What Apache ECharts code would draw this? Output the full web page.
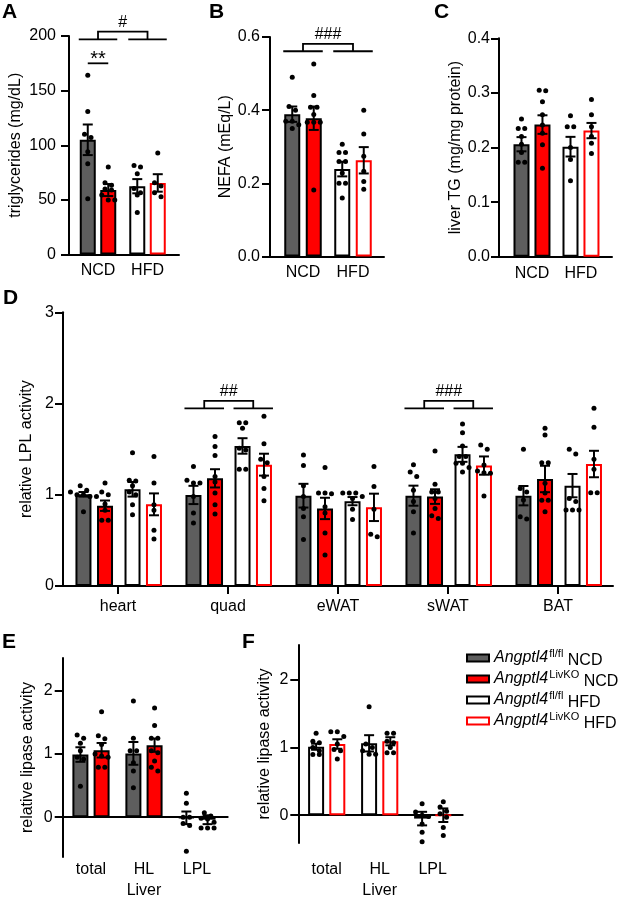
<!DOCTYPE html>
<html>
<head>
<meta charset="utf-8">
<script src="https://cdn.jsdelivr.net/npm/echarts@6/dist/echarts.min.js"></script>
<style>
html, body { margin: 0; padding: 0; background: #fff; }
#main { width: 625px; height: 901px; }
</style>
</head>
<body>
<div id="main"></div>
<script>
// groups, in the order of the legend
var groupNames = ['fl/fl NCD', 'LivKO NCD', 'fl/fl HFD', 'LivKO HFD'];
var dietCats = ['NCD', 'HFD'];
var tissueCats = ['heart', 'quad', 'eWAT', 'sWAT', 'BAT'];
var liverCats = ['total', 'HL\nLiver', 'LPL'];

// A - plasma triglycerides (mg/dL), one entry per group
var tgMean = [105, 59, 62.5, 65.5];
var tgSem = [14, 5.5, 6.5, 8];
var tgDots = [
    [164, 131, 110, 107, 94, 83, 51],
    [80, 65.6, 63.5, 60, 59, 54.5, 50, 50],
    [80, 81.5, 74, 60.5, 56.5, 54.5, 38.5],
    [93, 65.6, 62.6, 56.5, 52.8]
];

// B - NEFA (mEq/L)
var nefaMean = [0.389, 0.378, 0.239, 0.263];
var nefaSem = [0.021, 0.032, 0.02, 0.036];
var nefaDots = [
    [0.49, 0.41, 0.40, 0.37, 0.37, 0.36, 0.35],
    [0.526, 0.44, 0.408, 0.408, 0.388, 0.367, 0.367, 0.367, 0.182],
    [0.307, 0.284, 0.284, 0.26, 0.26, 0.228, 0.2, 0.2, 0.16],
    [0.40, 0.335, 0.274, 0.233, 0.205, 0.184]
];

// C - liver TG (mg/mg protein)
var liverTgMean = [0.206, 0.242, 0.2015, 0.231];
var liverTgSem = [0.013, 0.017, 0.018, 0.014];
var liverTgDots = [
    [0.252, 0.235, 0.235, 0.22, 0.206, 0.191, 0.173, 0.173],
    [0.304, 0.305, 0.284, 0.26, 0.241, 0.226, 0.205, 0.162],
    [0.258, 0.238, 0.238, 0.2, 0.178, 0.139],
    [0.288, 0.26, 0.238, 0.22, 0.208, 0.189]
];

// D - relative LPL activity, [tissue][group]
var lplMean = [
    [1.005, 0.88, 1.06, 0.895],
    [0.998, 1.18, 1.535, 1.33],
    [0.99, 0.85, 0.93, 0.862],
    [0.99, 0.98, 1.443, 1.32],
    [0.99, 1.173, 1.1, 1.337]
];
var lplSem = [
    [0.025, 0.057, 0.08, 0.12],
    [0.1, 0.1, 0.085, 0.12],
    [0.13, 0.117, 0.045, 0.15],
    [0.11, 0.08, 0.082, 0.1],
    [0.106, 0.145, 0.128, 0.145]
];
var lplDots = [
    [[1.10, 1.05, 1.03, 1.0, 1.0, 0.98, 0.98, 0.815], [1.13, 1.03, 1.0, 0.9, 0.83, 0.72, 0.72],
     [1.46, 1.16, 1.15, 1.1, 1.03, 1.0, 0.89, 0.78], [1.42, 1.13, 0.89, 0.83, 0.61, 0.515]],
    [[1.31, 1.16, 1.13, 1.13, 0.98, 0.8, 0.69], [1.64, 1.53, 1.43, 1.2, 1.14, 1.02, 0.89, 0.79],
     [1.79, 1.79, 1.73, 1.51, 1.49, 1.28, 1.28], [1.86, 1.56, 1.39, 1.35, 1.2, 1.07, 0.935]],
    [[1.436, 1.32, 1.1, 0.98, 0.85, 0.76, 0.51], [1.3, 1.02, 1.02, 1.01, 0.87, 0.8, 0.58, 0.34],
     [1.02, 1.02, 1.02, 0.98, 0.96, 0.84, 0.73], [1.31, 1.09, 0.84, 0.54, 0.566]],
    [[1.33, 1.25, 1.2, 1.05, 0.925, 0.815, 0.58], [1.48, 1.115, 1.03, 1.03, 0.96, 0.85, 0.77, 0.74],
     [1.776, 1.68, 1.535, 1.42, 1.42, 1.345, 1.345, 1.3, 1.25], [1.546, 1.5, 1.326, 1.26, 1.24, 1.235, 0.987]],
    [[1.498, 1.07, 1.03, 0.943, 0.76, 0.734], [1.73, 1.655, 1.35, 1.35, 1.125, 1.02, 0.94, 0.94, 0.815],
     [1.5, 1.447, 0.96, 0.925, 0.833, 0.833, 0.833], [1.948, 1.739, 1.389, 1.279, 1.023, 1.023]]
];

// E - liver lipase activity, NCD groups, [category][group]
var ncdLipMean = [[0.992, 1.06], [1.01, 1.14], [-0.01, -0.04]];
var ncdLipSem = [[0.115, 0.115], [0.18, 0.105], [0.1, 0.07]];
var ncdLipDots = [
    [[1.30, 1.25, 1.17, 1.05, 0.95, 0.92, 0.49], [1.67, 1.29, 1.24, 1.15, 1.0, 0.97, 0.95, 0.79, 0.79]],
    [[1.84, 1.25, 1.05, 1.05, 0.86, 0.73, 0.465], [1.73, 1.45, 1.25, 1.25, 1.05, 1.02, 0.89, 0.79, 0.73]],
    [[0.38, 0.22, 0.0, 0.0, -0.1, -0.13, -0.54], [0.07, 0.02, -0.015, -0.03, -0.08, -0.17, -0.17, -0.17]]
];

// F - liver lipase activity, HFD groups
var hfdLipMean = [[1.01, 1.05], [1.06, 1.09], [-0.05, 0.0]];
var hfdLipSem = [[0.045, 0.07], [0.12, 0.06], [0.1, 0.1]];
var hfdLipDots = [
    [[1.21, 1.09, 1.07, 1.0, 0.95, 0.895, 0.895], [1.23, 1.23, 1.16, 1.05, 0.97, 0.95, 0.83]],
    [[1.6, 1.05, 1.0, 0.95, 0.9, 0.9], [1.21, 1.21, 1.09, 1.07, 1.0, 0.92, 0.92]],
    [[0.167, 0.048, 0.0, -0.02, -0.13, -0.25, -0.39], [0.2, 0.12, 0.06, 0.02, -0.03, -0.18, -0.3]]
];

// significance marks (y in data units)
var tgBrackets = [
    {pair: [0, 1], y: 175, text: '**'},
    {left: [0, 1], right: [2, 3], y: 197, top: 204, text: '#'}
];
var nefaBrackets = [
    {left: [0, 1], right: [2, 3], y: 0.561, top: 0.581, text: '###'}
];
var lplBrackets = [
    {left: [4, 5], right: [6, 7], y: 1.948, top: 2.03, text: '##'},
    {left: [12, 13], right: [14, 15], y: 1.948, top: 2.03, text: '###'}
];

var FONT = '"Liberation Sans", Arial, sans-serif';
var groupStyles = [
    {color: '#5e5e5e', borderColor: '#000'},
    {color: '#ff0000', borderColor: '#000'},
    {color: '#ffffff', borderColor: '#000'},
    {color: '#ffffff', borderColor: '#ff0000'}
];
var BAR_W = 16, HALF = 9, CAP = 5, DOT_R = 2.5, STEP = 6.5, MIN_D = 5;

// bar slots: x position on the panel's value axis
function buildDiet(mean, sem, dots, off) {
    return mean.map(function (m, g) {
        return {x: Math.floor(g / 2) + (g % 2 ? off : -off), g: g, mean: m, sem: sem[g], dots: dots[g]};
    });
}
function buildCats(mean, sem, dots, offs, gIdx) {
    var out = [];
    mean.forEach(function (row, c) {
        row.forEach(function (m, k) {
            out.push({x: c + offs[k], g: gIdx[k], mean: m, sem: sem[c][k], dots: dots[c][k]});
        });
    });
    return out;
}

var fmt1 = function (v) { return v.toFixed(1); };

var panels = [
    {letter: 'A', lx: 2, ly: 2, left: 69, top: 36, width: 110, height: 218.5,
     xMin: -0.586, xMax: 1.636, yMin: 0, yMax: 200, yStep: 50, yMargin: 13,
     cats: dietCats, catTicks: false, labelMargin: 6,
     yName: 'triglycerides (mg/dL)', nameGap: 45,
     slots: buildDiet(tgMean, tgSem, tgDots, 0.207), brackets: tgBrackets},
    {letter: 'B', lx: 209, ly: 2, left: 270, top: 37, width: 114, height: 219.5,
     xMin: -0.66, xMax: 1.62, yMin: 0, yMax: 0.6, yStep: 0.2, yFmt: fmt1, yMargin: 10,
     cats: dietCats, catTicks: false, labelMargin: 6,
     yName: 'NEFA (mEq/L)', nameGap: 35,
     slots: buildDiet(nefaMean, nefaSem, nefaDots, 0.215), brackets: nefaBrackets},
    {letter: 'C', lx: 434, ly: 2, left: 499, top: 38.3, width: 113, height: 218.4,
     xMin: -0.673, xMax: 1.633, yMin: 0, yMax: 0.4, yStep: 0.1, yFmt: fmt1, yMargin: 9,
     cats: dietCats, catTicks: false, labelMargin: 6,
     yName: 'liver TG (mg/mg protein)', nameGap: 35,
     slots: buildDiet(liverTgMean, liverTgSem, liverTgDots, 0.214), brackets: []},
    {letter: 'D', lx: 3, ly: 288, left: 63, top: 312.3, width: 550, height: 273.7,
     xMin: -0.5, xMax: 4.5, yMin: 0, yMax: 3, yStep: 1, yMargin: 9,
     cats: tissueCats, catTicks: true, labelMargin: 10,
     yName: 'relative LPL activity', nameGap: 26,
     slots: buildCats(lplMean, lplSem, lplDots, [-0.314, -0.118, 0.132, 0.327], [0, 1, 2, 3]),
     brackets: lplBrackets},
    {letter: 'E', lx: 2, ly: 632, left: 62.7, top: 658, width: 165, height: 203.7,
     xMin: -0.534, xMax: 2.58, yMin: -0.63, yMax: 2.52, yTicks: [0, 1, 2], yMargin: 10,
     cats: liverCats, catTicks: false, labelMargin: 2,
     yName: 'relative lipase activity', nameGap: 27,
     slots: buildCats(ncdLipMean, ncdLipSem, ncdLipDots, [-0.2, 0.2], [0, 1]), brackets: []},
    {letter: 'F', lx: 242, ly: 632, left: 298.3, top: 645, width: 164.4, height: 205,
     xMin: -0.536, xMax: 2.566, yMin: -0.41, yMax: 2.51, yTicks: [0, 1, 2], yMargin: 10,
     cats: liverCats, catTicks: false, labelMargin: 16,
     yName: 'relative lipase activity', nameGap: 26,
     slots: buildCats(hfdLipMean, hfdLipSem, hfdLipDots, [-0.2, 0.2], [2, 3]), brackets: []}
];

// dots whose pixel rows would overlap are laid side by side, centred on the bar
function swarm(api, x, vals) {
    var pts = vals.map(function (v) { return api.coord([x, v]); })
        .sort(function (a, b) { return a[1] - b[1]; });
    var out = [], i = 0;
    while (i < pts.length) {
        var j = i + 1;
        while (j < pts.length && pts[j][1] - pts[i][1] < MIN_D) j++;
        var n = j - i;
        for (var k = 0; k < n; k++) {
            out.push([pts[i][0] + (k - (n - 1) / 2) * STEP, pts[i + k][1]]);
        }
        i = j;
    }
    return out;
}

var black = '#000';
var option = {
    animation: false,
    textStyle: {fontFamily: FONT},
    grid: [], xAxis: [], yAxis: [], series: [], graphic: []
};

panels.forEach(function (pc, p) {
    var catIdx = pc.cats.map(function (c, i) { return i; });
    option.grid.push({left: pc.left, top: pc.top, width: pc.width, height: pc.height});

    // axis carrying the marks (line sits on y = 0)
    option.xAxis.push({
        type: 'value', gridIndex: p, min: pc.xMin, max: pc.xMax,
        axisLine: {show: true, onZero: true, lineStyle: {color: black, width: 2}},
        axisTick: {show: false}, axisLabel: {show: false}, splitLine: {show: false}
    });
    // axis carrying the category labels (at the bottom of the panel)
    option.xAxis.push({
        type: 'value', gridIndex: p, position: 'bottom', min: pc.xMin, max: pc.xMax,
        axisLine: {show: false, onZero: false},
        axisTick: {show: pc.catTicks, customValues: catIdx, length: 8, lineStyle: {color: black, width: 2}},
        axisLabel: {
            customValues: catIdx, margin: pc.labelMargin, fontSize: 16, color: black, lineHeight: 21,
            fontFamily: FONT,
            formatter: function (v) { return pc.cats[Math.round(v)]; }
        },
        splitLine: {show: false}
    });
    option.yAxis.push({
        type: 'value', gridIndex: p, min: pc.yMin, max: pc.yMax, interval: pc.yStep,
        name: pc.yName, nameLocation: 'middle', nameGap: pc.nameGap,
        nameTextStyle: {fontSize: 16, color: black, fontFamily: FONT},
        axisLine: {show: true, onZero: false, lineStyle: {color: black, width: 2}},
        axisTick: {show: true, length: 8, customValues: pc.yTicks, lineStyle: {color: black, width: 2}},
        axisLabel: {fontSize: 16, color: black, margin: pc.yMargin, fontFamily: FONT,
                    customValues: pc.yTicks, formatter: pc.yFmt},
        splitLine: {show: false}
    });

    option.series.push({
        type: 'bar', xAxisIndex: 2 * p, yAxisIndex: p, barWidth: BAR_W, z: 2, silent: true,
        data: pc.slots.map(function (s) {
            return {value: [s.x, s.mean], itemStyle: {
                color: groupStyles[s.g].color, borderColor: groupStyles[s.g].borderColor, borderWidth: 2}};
        })
    });

    option.series.push({
        type: 'custom', xAxisIndex: 2 * p, yAxisIndex: p, z: 4, silent: true,
        data: pc.slots.map(function (s) { return [s.x, s.mean, s.sem]; }),
        encode: {x: 0, y: 1},
        renderItem: function (params, api) {
            var s = pc.slots[params.dataIndex];
            var x = api.value(0), m = api.value(1), e = api.value(2);
            var kids = swarm(api, x, s.dots).map(function (pt) {
                return {type: 'circle', shape: {cx: pt[0], cy: pt[1], r: DOT_R}, style: {fill: black}};
            });
            var hi = api.coord([x, m + e]), lo = api.coord([x, m - e]);
            var ls = {stroke: black, lineWidth: 2};
            kids.push({type: 'line', shape: {x1: hi[0], y1: hi[1], x2: lo[0], y2: lo[1]}, style: ls});
            kids.push({type: 'line', shape: {x1: hi[0] - CAP, y1: hi[1], x2: hi[0] + CAP, y2: hi[1]}, style: ls});
            kids.push({type: 'line', shape: {x1: lo[0] - CAP, y1: lo[1], x2: lo[0] + CAP, y2: lo[1]}, style: ls});
            return {type: 'group', children: kids};
        }
    });

    if (pc.brackets.length) {
        option.series.push({
            type: 'custom', xAxisIndex: 2 * p, yAxisIndex: p, z: 5, silent: true, clip: false,
            data: pc.brackets.map(function (b) { return [0, b.y]; }),
            encode: {x: 0, y: 1},
            renderItem: function (params, api) {
                var b = pc.brackets[params.dataIndex];
                var ls = {stroke: black, lineWidth: 1.8, fill: null};
                var yl = api.coord([0, b.y])[1];
                var cx = function (i) { return api.coord([pc.slots[i].x, b.y])[0]; };
                var kids = [];
                if (b.pair) {
                    var x1 = cx(b.pair[0]), x2 = cx(b.pair[1]);
                    kids.push({type: 'line', shape: {x1: x1, y1: yl, x2: x2, y2: yl}, style: ls});
                    kids.push({type: 'text', style: {text: b.text, x: (x1 + x2) / 2, y: yl - 4,
                        align: 'center', verticalAlign: 'middle', font: '20px ' + FONT, fill: black}});
                } else {
                    var yt = api.coord([0, b.top])[1];
                    var l1 = cx(b.left[0]) - HALF, l2 = cx(b.left[1]) + HALF;
                    var r1 = cx(b.right[0]) - HALF, r2 = cx(b.right[1]) + HALF;
                    var ml = (l1 + l2) / 2, mr = (r1 + r2) / 2;
                    kids.push({type: 'line', shape: {x1: l1, y1: yl, x2: l2, y2: yl}, style: ls});
                    kids.push({type: 'line', shape: {x1: r1, y1: yl, x2: r2, y2: yl}, style: ls});
                    kids.push({type: 'polyline', shape: {points: [[ml, yl], [ml, yt], [mr, yt], [mr, yl]]}, style: ls});
                    kids.push({type: 'text', style: {text: b.text, x: (ml + mr) / 2, y: yt - 1,
                        align: 'center', verticalAlign: 'bottom', font: '16px ' + FONT, fill: black}});
                }
                return {type: 'group', children: kids};
            }
        });
    }

    option.graphic.push({type: 'text', left: pc.lx, top: pc.ly,
        style: {text: pc.letter, font: 'bold 21px ' + FONT, fill: black}});
});

// hidden grid that only feeds the legend
var lg = panels.length;
option.grid.push({left: -20, top: -20, width: 1, height: 1});
option.xAxis.push({type: 'value', gridIndex: lg, show: false});
option.yAxis.push({type: 'value', gridIndex: lg, show: false});
groupNames.forEach(function (n, g) {
    option.series.push({type: 'bar', name: n, xAxisIndex: 2 * lg, yAxisIndex: lg, data: [],
        itemStyle: {color: groupStyles[g].color, borderColor: groupStyles[g].borderColor, borderWidth: 2}});
});
option.legend = {
    orient: 'vertical', left: 461, top: 643, itemWidth: 22, itemHeight: 7, itemGap: 0,
    icon: 'rect', selectedMode: false,
    data: groupNames.map(function (n, g) {
        return {name: n, itemStyle: {color: groupStyles[g].color, borderColor: groupStyles[g].borderColor, borderWidth: 2}};
    }),
    formatter: function (name) {
        var parts = name.split(' ');
        return '{i|Angptl4}{s|' + parts[0] + '}{n| ' + parts[1] + '}';
    },
    textStyle: {
        color: black,
        rich: {
            i: {fontSize: 16, fontStyle: 'italic', lineHeight: 22, fontFamily: FONT, color: black},
            s: {fontSize: 11, verticalAlign: 'top', fontFamily: FONT, color: black, padding: [1, 0, 0, 1]},
            n: {fontSize: 16, verticalAlign: 'bottom', fontFamily: FONT, color: black}
        }
    }
};

var chart = echarts.init(document.getElementById('main'));
chart.setOption(option);
</script>
</body>
</html>
